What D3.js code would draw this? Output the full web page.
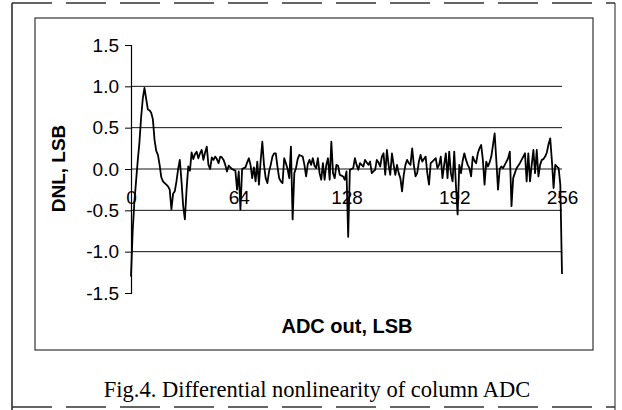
<!DOCTYPE html>
<html>
<head>
<meta charset="utf-8">
<script src="https://d3js.org/d3.v7.min.js"></script>
<style>
  body { margin: 0; background: #fff; }
  .ylab text { font: 19px "Liberation Sans", Arial, sans-serif; }
  .xlab text { font: 19px "Liberation Sans", Arial, sans-serif; }
  .title { font: bold 19px "Liberation Sans", Arial, sans-serif; }
  .caption { font: 22.5px "Liberation Serif", "Times New Roman", serif; }
</style>
</head>
<body>
<script>
// ADC codes shown on the x axis
const xTicks = [0, 64, 128, 192, 256];
const yTicks = [-1.5, -1.0, -0.5, 0, 0.5, 1.0, 1.5];
const gridValues = [-1.0, -0.5, 0, 0.5, 1.0];

// DNL per code 0..256
const dnl = [
  -1.30,-0.75,-0.40,-0.15,0.10,0.32,0.62,0.85,0.98,0.85,0.72,0.71,0.68,0.60,0.35,0.22,
  0.17,0.05,-0.10,-0.15,-0.17,-0.19,-0.21,-0.25,-0.49,-0.30,-0.27,-0.15,0.00,0.11,-0.15,-0.45,
  -0.61,-0.25,0.03,-0.02,0.20,0.12,0.18,0.21,0.13,0.19,0.23,0.11,0.20,0.27,0.05,0.00,
  0.14,0.11,0.15,0.12,0.07,0.15,0.14,0.11,0.05,-0.03,0.04,0.02,0.00,-0.01,-0.02,-0.25,
  -0.03,-0.49,0.00,0.01,0.02,0.08,0.13,0.05,-0.11,0.02,-0.15,0.09,-0.19,0.10,0.33,0.05,
  -0.11,-0.17,-0.03,0.05,0.15,0.19,0.19,0.03,-0.11,-0.15,-0.17,0.13,0.07,0.00,-0.11,0.27,
  -0.61,-0.05,0.01,0.12,0.17,0.16,0.15,0.05,-0.09,0.06,0.11,0.05,0.13,0.04,0.01,0.13,
  -0.05,-0.13,0.07,-0.13,0.05,0.13,-0.13,0.33,-0.05,-0.11,0.05,0.04,-0.07,-0.08,-0.09,-0.13,
  -0.03,-0.82,-0.01,0.00,0.01,0.13,0.05,-0.01,0.07,0.05,0.03,0.11,0.08,0.05,0.09,-0.05,
  -0.03,-0.01,0.11,0.08,0.03,0.15,0.19,-0.07,0.23,0.05,-0.07,0.19,0.05,-0.07,0.05,-0.05,
  -0.11,-0.27,-0.07,0.05,0.11,0.07,0.05,0.25,0.05,-0.09,-0.05,0.09,0.17,0.09,0.12,0.15,
  -0.05,-0.19,0.07,0.09,0.11,0.13,0.01,0.05,0.15,-0.11,0.05,0.19,-0.11,0.21,-0.05,-0.15,
  0.21,-0.20,-0.55,0.05,-0.05,0.10,0.19,0.11,0.05,0.01,-0.09,0.15,0.10,0.07,0.19,0.25,
  0.29,0.11,-0.19,0.09,0.03,0.08,0.15,0.29,0.43,0.10,-0.25,0.00,0.03,0.01,0.05,0.09,
  0.13,0.21,-0.45,-0.11,-0.05,0.01,0.04,0.07,0.11,0.15,0.19,-0.15,0.19,-0.15,0.05,0.23,
  -0.05,0.23,-0.09,0.05,0.11,0.12,0.15,0.20,0.30,0.37,0.10,-0.23,0.05,0.03,0.01,-0.19,
  -1.27
];

const width = 622, height = 410;
const svg = d3.select('body').append('svg').attr('width', width).attr('height', height);

const x = d3.scaleLinear().domain([0, 256]).range([131, 562]);
const y = d3.scaleLinear().domain([-1.5, 1.5]).range([293, 45]);

// outer figure box (scan: sides solid, top/bottom broken)
svg.append('line').attr('x1', 12).attr('x2', 12).attr('y1', 3).attr('y2', 410)
  .attr('stroke', '#222').attr('stroke-width', 1.5);
svg.append('line').attr('x1', 615).attr('x2', 615).attr('y1', 3).attr('y2', 410)
  .attr('stroke', '#444').attr('stroke-width', 1.2);
[3, 407].forEach(yy => {
  svg.append('line').attr('x1', 12).attr('x2', 615).attr('y1', yy).attr('y2', yy)
    .attr('stroke', '#333').attr('stroke-width', 1.5).attr('stroke-dasharray', '40,14');
});

// chart area box
svg.append('rect').attr('x', 35).attr('y', 18).attr('width', 558).attr('height', 332)
  .attr('fill', 'none').attr('stroke', '#333').attr('stroke-width', 1.2);

// gridlines
svg.append('g').selectAll('line').data(gridValues).enter().append('line')
  .attr('x1', x(0)).attr('x2', x(256))
  .attr('y1', d => y(d)).attr('y2', d => y(d))
  .attr('stroke', '#111').attr('stroke-width', 1);

// x labels sit just below the zero line
const xAxis = svg.append('g').attr('class', 'xlab')
  .attr('transform', `translate(0,${y(0)})`)
  .call(d3.axisBottom(x).tickValues(xTicks).tickSize(0).tickPadding(22).tickFormat(d3.format('d')));
xAxis.select('.domain').remove();
xAxis.selectAll('text').attr('fill', '#000');

// data line
const line = d3.line().x((d, i) => x(i)).y(d => y(d));
svg.append('path').datum(dnl)
  .attr('d', line)
  .attr('fill', 'none')
  .attr('stroke', '#000')
  .attr('stroke-width', 1.8)
  .attr('stroke-linejoin', 'round');

// y axis
const yAxis = svg.append('g').attr('class', 'ylab')
  .attr('transform', `translate(${x(0)},0)`)
  .call(d3.axisLeft(y).tickValues(yTicks).tickSize(6).tickPadding(6).tickFormat(d => d.toFixed(1)));
yAxis.select('.domain').attr('stroke', '#000').attr('stroke-width', 1.2);
yAxis.selectAll('line').attr('stroke', '#000');
yAxis.selectAll('text').attr('fill', '#000');

svg.append('text').attr('class', 'title')
  .attr('transform', 'translate(65,168.5) rotate(-90)')
  .attr('text-anchor', 'middle')
  .text('DNL, LSB');

svg.append('text').attr('class', 'title')
  .attr('x', 347).attr('y', 333)
  .attr('text-anchor', 'middle')
  .style('font-size', '20px')
  .text('ADC out, LSB');

svg.append('text').attr('class', 'caption')
  .attr('x', 317).attr('y', 397)
  .attr('text-anchor', 'middle')
  .text('Fig.4. Differential nonlinearity of column ADC');
</script>
</body>
</html>
